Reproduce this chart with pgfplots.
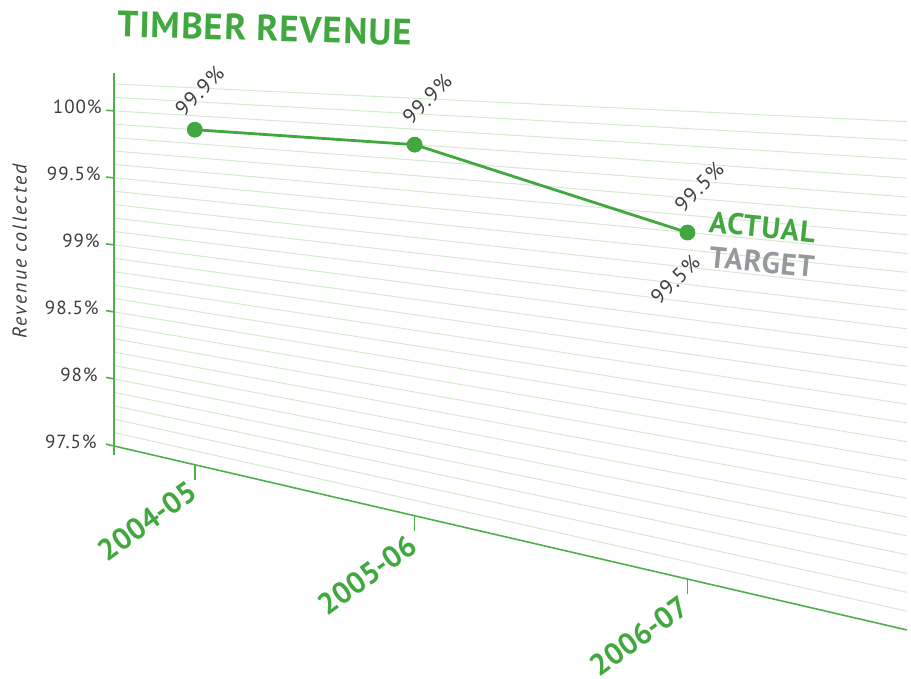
\documentclass[border=0pt]{standalone}
\usepackage{fontspec}
\setmainfont{PT Sans}
\newfontfamily\spacedfont[LetterSpace=5]{PT Sans}
\newfontfamily\widefont[LetterSpace=10]{PT Sans}
\newfontfamily\titlefont[LetterSpace=3]{PT Sans}
\usepackage{pgfplots}
\pgfplotsset{compat=1.18}

\definecolor{grn}{RGB}{64,168,62}
\definecolor{gridgrn}{RGB}{212,233,207}
\definecolor{axgrn}{RGB}{80,175,72}
\definecolor{txt}{RGB}{62,62,62}
\definecolor{tgtgray}{RGB}{150,152,156}

% perspective of the chart plane, fitted on the reference:
% c = category index (0 = 2004-05), p = percent; result in reference pixels (y up)
\pgfmathdeclarefunction{PX}{1}{\pgfmathparse{(194.824+179.529*#1)/(1-0.097137*#1)}}
\pgfmathdeclarefunction{PY}{2}{\pgfmathparse{-(464.753+0.90106*#1-139.594*(#2-97.5))/(1-0.097137*#1)}}

\pgfplotsset{table/persp/.style={x expr={PX(\thisrow{c})}, y expr={PY(\thisrow{c},\thisrow{p})}, row sep=\\}}
\tikzset{lbl/.style={rotate=45, inner sep=0pt, text=txt,
  font=\spacedfont\fontsize{10.5}{10.5}\selectfont}}

\begin{document}
\begin{tikzpicture}
\useasboundingbox (0,0) rectangle (455.5pt,339.5pt);
\begin{axis}[
  at={(0,0)}, anchor=south west, scale only axis,
  width=455.5pt, height=339.5pt,
  xmin=0, xmax=911, ymin=-679, ymax=0,
  hide axis, clip=false,
]
% grid lines every 0.1%
\pgfplotsinvokeforeach{97.6,97.7,97.8,97.9,98.0,98.1,98.2,98.3,98.4,98.5,98.6,98.7,98.8,98.9,
  99.0,99.1,99.2,99.3,99.4,99.5,99.6,99.7,99.8,99.9,100.0,100.1,100.2}{
  \addplot[gridgrn, line width=0.5pt] table[persp] {c p\\ -0.42404 #1\\ 2.66104 #1\\};
}
% axis lines
\addplot[axgrn, line width=0.8pt] table[persp] {c p\\ -0.42404 97.43\\ -0.42404 100.28\\};
\addplot[axgrn, line width=0.8pt] table[persp] {c p\\ -0.42404 97.5\\ 2.66104 97.5\\};
% ticks
\pgfplotsinvokeforeach{97.5,98,98.5,99,99.5,100}{
  \addplot[axgrn, line width=0.8pt] table[persp] {c p\\ -0.42404 #1\\ -0.468 #1\\};
}
\addplot[axgrn, line width=0.8pt] table[persp] {c p\\ 0 97.5\\ 0 97.393\\};
\addplot[axgrn, line width=0.8pt] table[persp] {c p\\ 1 97.5\\ 1 97.403\\};
\addplot[axgrn, line width=0.8pt] table[persp] {c p\\ 2 97.5\\ 2 97.413\\};

% revenue collected
\addplot[grn, line width=1.4pt] table[persp] {c p\\ 0 99.9\\ 1 99.9\\ 2 99.5\\};
\addplot[grn, only marks, mark=*, mark size=3.75pt] table[persp] {c p\\ 0 99.9\\ 1 99.9\\ 2 99.5\\};

% texts
\node[font=\titlefont\bfseries\fontsize{18.3}{18.3}\selectfont, text=grn,
  anchor=base west, inner sep=0pt, rotate=-1.6] at (axis cs:117,-37) {TIMBER REVENUE};
\node[font=\widefont\itshape\fontsize{10}{10}\selectfont, text=txt,
  anchor=base, inner sep=0pt, rotate=90] at (axis cs:26.6,-251.5) {Revenue collected};

\begin{scope}[every node/.style={font=\spacedfont\fontsize{9.5}{9.5}\selectfont,
    text=txt, anchor=east, inner sep=0pt}]
\node at (axis cs:102,-107) {100\%};
\node at (axis cs:101,-174) {99.5\%};
\node at (axis cs:100,-241) {99\%};
\node at (axis cs:99,-308) {98.5\%};
\node at (axis cs:98,-375) {98\%};
\node at (axis cs:97,-442) {97.5\%};
\end{scope}

\begin{scope}[every node/.style={font=\bfseries\fontsize{15}{15}\selectfont,
    text=grn, rotate=36, anchor=south east, inner sep=0pt}]
\node at (axis cs:200,-497) {2004-05};
\node at (axis cs:420,-551) {2005-06};
\node at (axis cs:692,-612) {2006-07};
\end{scope}

\node[lbl, anchor=south west] at (axis cs:184,-118) {99.9\%};
\node[lbl, anchor=south west] at (axis cs:411.5,-126) {99.9\%};
\node[lbl, anchor=south west] at (axis cs:683.5,-214) {99.5\%};
\node[lbl, anchor=south east] at (axis cs:702,-264) {99.5\%};

\node[font=\titlefont\bfseries\fontsize{15}{15}\selectfont, text=grn,
  anchor=base west, inner sep=0pt, rotate=-5.7] at (axis cs:708,-232) {ACTUAL};
\node[font=\titlefont\bfseries\fontsize{15}{15}\selectfont, text=tgtgray,
  anchor=base west, inner sep=0pt, rotate=-5.7] at (axis cs:708,-267) {TARGET};
\end{axis}
\end{tikzpicture}
\end{document}
